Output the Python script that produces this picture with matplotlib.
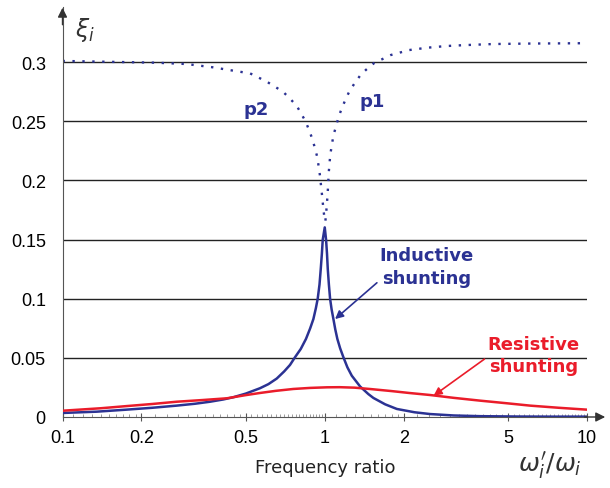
import numpy as np
import matplotlib
matplotlib.use("Agg")
import matplotlib.pyplot as plt
from matplotlib.ticker import FixedLocator, NullFormatter

blue = "#2b3293"
red = "#ea1c2a"

# dotted branches
p2_f = [0.1, 0.228, 0.297, 0.375, 0.447, 0.519, 0.601, 0.693, 0.738, 0.782, 0.812,
        0.846, 0.871, 0.897, 0.918, 0.937, 0.959, 0.968, 0.977, 0.988, 1.0]
p2_xi = [0.301, 0.2995, 0.2984, 0.2956, 0.2928, 0.2905, 0.2835, 0.275, 0.269, 0.263, 0.2567,
         0.2497, 0.2426, 0.235, 0.2271, 0.2195, 0.204, 0.1955, 0.187, 0.176, 0.166]
p1_f = [1.006, 1.018, 1.027, 1.036, 1.05, 1.079, 1.104, 1.127, 1.161, 1.195, 1.241, 1.294,
        1.364, 1.438, 1.543, 1.786, 2.098, 2.464, 2.904, 3.43, 4.4, 6.08, 10.0]
p1_xi = [0.166, 0.1786, 0.191, 0.207, 0.222, 0.238, 0.2457, 0.253, 0.261, 0.2674, 0.2753, 0.2815,
         0.2886, 0.2936, 0.2992, 0.306, 0.3102, 0.3122, 0.3136, 0.3144, 0.3153, 0.3157, 0.316]

# inductive shunting
ind_f = [0.1, 0.135, 0.175, 0.22, 0.272, 0.32, 0.365, 0.41, 0.448, 0.5, 0.566, 0.61, 0.656,
         0.7, 0.737, 0.77, 0.81, 0.848, 0.88, 0.905, 0.925, 0.94, 0.955, 0.9654, 0.975, 0.9826,
         1.0,
         1.0115, 1.02, 1.027, 1.037, 1.048, 1.062, 1.079, 1.097, 1.117, 1.145, 1.178, 1.22,
         1.268, 1.364, 1.466, 1.533, 1.7, 1.883, 2.2, 2.52, 3.1, 3.92, 5.5, 7.5, 10.0]
ind_xi = [0.0034, 0.0045, 0.0062, 0.0078, 0.0096, 0.0112, 0.0129, 0.0148, 0.0167, 0.0198, 0.0243,
          0.0278, 0.0325, 0.0385, 0.044, 0.0505, 0.0575, 0.066, 0.075, 0.0828, 0.092, 0.1,
          0.112, 0.125, 0.138, 0.15,
          0.1603,
          0.15, 0.138, 0.125, 0.112, 0.1, 0.091, 0.0828, 0.074, 0.066, 0.058, 0.0505, 0.042,
          0.0349, 0.0258, 0.0194, 0.0161, 0.0107, 0.0068, 0.004, 0.0025, 0.0013, 0.0007,
          0.0004, 0.0003, 0.0003]

# resistive shunting
res_f = [0.1, 0.14, 0.175, 0.22, 0.272, 0.34, 0.423, 0.5, 0.566, 0.65, 0.759, 0.88, 1.02,
         1.14, 1.3, 1.5, 1.8, 2.1, 2.52, 3.1, 3.92, 4.9, 6.08, 7.8, 10.0]
res_xi = [0.0053, 0.0074, 0.0092, 0.011, 0.0129, 0.0143, 0.0158, 0.0185, 0.0203, 0.0221, 0.0237,
          0.0246, 0.0251, 0.0252, 0.0248, 0.0236, 0.0219, 0.0203, 0.0186, 0.0162, 0.0138,
          0.0117, 0.0096, 0.0078, 0.0062]

xticks = [0.1, 0.2, 0.5, 1, 2, 5, 10]
xticklabels = ["0.1", "0.2", "0.5", "1", "2", "5", "10"]
yticks = [0, 0.05, 0.1, 0.15, 0.2, 0.25, 0.3]
yticklabels = ["0", "0.05", "0.1", "0.15", "0.2", "0.25", "0.3"]

plt.rcParams["font.family"] = ["Liberation Sans", "DejaVu Sans"]
fig = plt.figure(figsize=(6.1, 4.89), dpi=100)
ax = fig.add_axes([62.5 / 610, 71 / 489, 524.5 / 610, 410 / 489])
ax.set_xscale("log")
ax.set_xlim(0.1, 10)
ax.set_ylim(0, 0.3466)

for y in yticks[1:]:
    ax.axhline(y, color="#222222", lw=1.0, zorder=1)

ax.plot(p2_f, p2_xi, color=blue, lw=1.7, linestyle=(0, (1, 3.2)), dash_capstyle="butt")
ax.plot(p1_f, p1_xi, color=blue, lw=1.7, linestyle=(0, (1, 3.2)), dash_capstyle="butt")
ax.plot(ind_f, ind_xi, color=blue, lw=1.8, zorder=3)
ax.plot(res_f, res_xi, color=red, lw=1.8, zorder=3)

ax.spines["top"].set_visible(False)
ax.spines["right"].set_visible(False)
ax.spines["left"].set_color("#555555")
ax.spines["bottom"].set_color("#555555")
ax.spines["left"].set_bounds(0, 0.3466)

ax.set_xticks(xticks)
ax.set_xticklabels(xticklabels, fontsize=13)
minor = []
for d in [0.1, 1]:
    minor += list(d * np.arange(1.1, 2, 0.1)) + list(d * np.arange(2, 10, 0.25))
ax.xaxis.set_minor_locator(FixedLocator(minor))
ax.xaxis.set_minor_formatter(NullFormatter())
ax.tick_params(axis="x", which="major", direction="inout", length=6, width=0.8, pad=6, color="#555555")
ax.tick_params(axis="x", which="minor", direction="in", length=2.5, width=0.5, color="#777777")
ax.set_yticks(yticks)
ax.set_yticklabels(yticklabels, fontsize=13)
ax.tick_params(axis="y", length=0, pad=12)

# axis arrows
ax.annotate("", xy=(1.04, 0), xytext=(0.99, 0), xycoords="axes fraction",
            arrowprops=dict(arrowstyle="-|>", color="#333333", lw=1, mutation_scale=14))
ax.annotate("", xy=(0, 1.005), xytext=(0, 0.95), xycoords="axes fraction",
            arrowprops=dict(arrowstyle="-|>", color="#333333", lw=1, mutation_scale=14))

fig.text(85 / 610, 1 - 30 / 489, r"$\xi_i$", fontsize=17, ha="center", va="center", color="#333333")
fig.text(550 / 610, 1 - 466 / 489, r"$\omega_i'/\omega_i$", fontsize=18, ha="center", va="center",
         color="#333333")
fig.text(325 / 610, 1 - 468 / 489, "Frequency ratio", fontsize=13, ha="center", va="center",
         family="DejaVu Sans", color="#222222")

ax.text(0.55, 0.260, "p2", color=blue, fontsize=13, fontweight="bold", ha="center", va="center",
        family="DejaVu Sans")
ax.text(1.515, 0.267, "p1", color=blue, fontsize=13, fontweight="bold", ha="center", va="center",
        family="DejaVu Sans")
ax.annotate("Inductive\nshunting", xy=(1.095, 0.0828), xytext=(2.45, 0.1276),
            color=blue, fontsize=13, fontweight="bold", ha="center", va="center",
            family="DejaVu Sans", linespacing=1.35,
            arrowprops=dict(arrowstyle="-|>", color=blue, lw=1.2, mutation_scale=12,
                            shrinkA=0, shrinkB=0, relpos=(0.0, 0.15)))
ax.annotate("Resistive\nshunting", xy=(2.6, 0.018), xytext=(6.24, 0.0524),
            color=red, fontsize=13, fontweight="bold", ha="center", va="center",
            family="DejaVu Sans", linespacing=1.35,
            arrowprops=dict(arrowstyle="-|>", color=red, lw=1.2, mutation_scale=12,
                            shrinkA=0, shrinkB=0, relpos=(0.0, 0.45)))

fig.savefig("out.png", dpi=100)
